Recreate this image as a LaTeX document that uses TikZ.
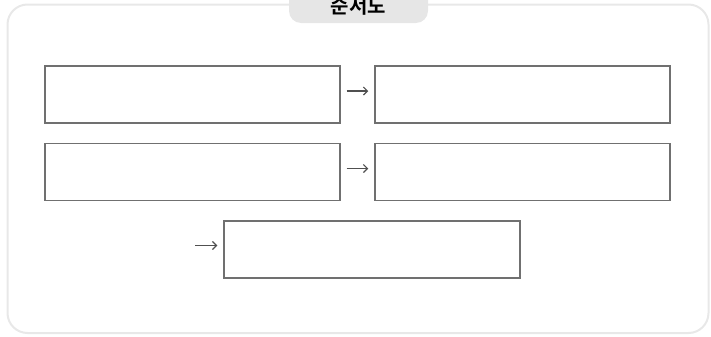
\documentclass[tikz,border=0pt]{standalone}
\usepackage{fontspec}
\newfontfamily\kofont{Noto Sans CJK KR}[BoldFont={Noto Sans CJK KR Bold}]
\usetikzlibrary{arrows.meta}

\definecolor{framegray}{RGB}{232,232,232}
\definecolor{tabgray}{RGB}{230,230,230}
\definecolor{boxgray}{RGB}{112,112,112}
\definecolor{arrowgray}{RGB}{80,80,80}

\tikzset{every picture/.style={line width=0.75pt}}
\tikzset{
  stepbox/.style={draw=boxgray, line width=1.1pt, minimum width=221.25pt, minimum height=42.75pt, inner sep=0pt},
  flow/.style={draw=arrowgray, line width=0.9pt, -{Straight Barb[length=3pt,width=6pt]}, shorten <=4.5pt, shorten >=4.5pt}
}

\begin{document}
\begin{tikzpicture}[x=0.75pt,y=0.75pt,yscale=-1,xscale=1]
    \useasboundingbox (0,0) rectangle (711,336);

    %Shape: Rounded Rect [id:frame]
    \draw [draw=framegray, line width=1.5pt, rounded corners=15pt] (7.5,4.5) rectangle (708.5,333);
    %Shape: Tab [id:tab]
    \fill [tabgray, rounded corners=9pt] (289,-15) rectangle (428,23);

    % Text Node
    \node (title) at (358.5,6.5) [inner sep=0pt] {\kofont\bfseries\fontsize{15pt}{15pt}\selectfont 순서도};

    %Boxes
    \node [stepbox] (b1) at (192.5,94.5) {};
    \node [stepbox] (b2) at (522.5,94.5) {};
    \node [stepbox] (b3) at (192.5,172) {};
    \node [stepbox] (b4) at (522.5,172) {};
    \node [stepbox, minimum width=222pt] (b5) at (372,249.5) {};

    %Arrows
    \coordinate (a5) at (189,245.5);
    \draw [flow] ([yshift=-2.6pt]b1.east) -- ([yshift=-2.6pt]b2.west);
    \draw [flow] ([yshift=-2.6pt]b3.east) -- ([yshift=-2.6pt]b4.west);
    \draw [flow] (a5) -- ([yshift=-3pt]b5.west);

\end{tikzpicture}
\end{document}
